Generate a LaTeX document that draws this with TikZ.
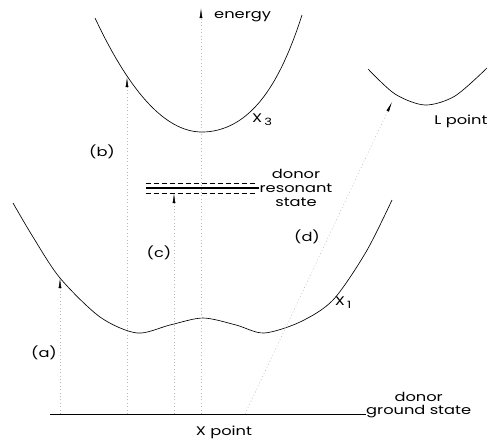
\documentclass[tikz,border=0pt]{standalone}
\usepackage{fontspec}
\newfontfamily\plotfont{Poppins}[FakeStretch=1.3]
\usetikzlibrary{arrows.meta, positioning}
\tikzset{
  band/.style={line width=0.65pt},
  guide/.style={gray!55, line width=0.5pt, dash pattern=on 1pt off 2.4pt},
  trans/.style={guide, -{Latex[length=10pt, width=2.8pt, color=black]}},
  level/.style={line width=1.5pt},
  halfwidth/.style={line width=0.55pt, dash pattern=on 5pt off 3pt},
  lbl/.style={font=\plotfont\fontsize{12.5}{14}\selectfont, inner sep=0pt, align=center}
}
\newcommand{\sublbl}[1]{\,\lower3pt\hbox{\fontsize{10}{10}\selectfont #1}}

\begin{document}
\begin{tikzpicture}[x=1pt, y=-1pt, node distance=3pt]
  \useasboundingbox (0,0) rectangle (495,439);

  \coordinate (gA) at (60,414);  \coordinate (eA) at (60,278);
  \coordinate (gB) at (127,414); \coordinate (eB) at (127,77);
  \coordinate (gC) at (174,414); \coordinate (eC) at (174,193);
  \coordinate (gD) at (245,414); \coordinate (eD) at (392,102);
  \coordinate (gE) at (201,414); \coordinate (eE) at (201,8);
  \coordinate (gsL) at (50,414);
  \coordinate (resL) at (146,188);
  \coordinate (wTL) at (146,183); \coordinate (wTR) at (255,183);
  \coordinate (wBL) at (146,193); \coordinate (wBR) at (255,193);

  \draw[band] plot[domain=95:202, samples=40] (\x, {132-99.6*((\x-202)/100)^2})
    -- plot[domain=202:302, samples=40] (\x, {132-77.4*((\x-202)/100)^2-39.6*((\x-202)/100)^4});
  \draw[band] plot[smooth] coordinates {(13,203) (33,237) (60,278) (100,317) (137,333) (170,325) (203,318) (236,325) (264,333) (300,322) (333,300) (366,252) (392,200)};
  \draw[band] plot[smooth] coordinates {(368,69) (395,94) (425,105) (455,96) (487,68)};

  \node[lbl] (energy) [anchor=west] at (214,17) {energy};
  \node[lbl] (xthree) at (262,120) {X\sublbl{3}};
  \node[lbl] (xone) at (343,303) {X\sublbl{1}};
  \node[lbl] (lpoint) at (461,121) {L point};
  \node[lbl] (xpoint) at (224,432) {X point};
  \node[lbl] (reslbl) at (296,188) {donor\\resonant\\state};
  \node[lbl] (gslbl) [anchor=base west] at (366,414) {ground state};
  \node[lbl] (gsdonor) [above=of gslbl] {donor};
  \node[lbl] (la) at (44,353) {(a)};
  \node[lbl] (lb) at (102,152) {(b)};
  \node[lbl] (lc) at (159,253) {(c)};
  \node[lbl] (ld) at (307,237) {(d)};

  \draw[band] (gsL) -- (gslbl.base west);
  \draw[level] (resL) -- (reslbl.west);
  \draw[halfwidth] (wTL) -- (wTR);
  \draw[halfwidth] (wBL) -- (wBR);

  \draw[trans] (gE) -- (eE);
  \draw[trans] (gA) -- (eA);
  \draw[trans] (gB) -- (eB);
  \draw[trans] (gC) -- (eC);
  \draw[trans] (gD) -- (eD);
\end{tikzpicture}
\end{document}
